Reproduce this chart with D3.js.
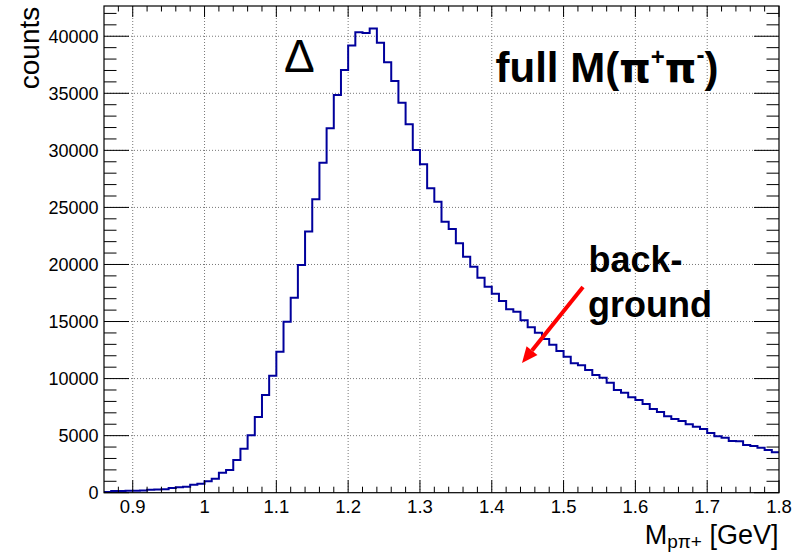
<!DOCTYPE html>
<html>
<head>
<meta charset="utf-8">
<script src="https://cdn.jsdelivr.net/npm/d3@7"></script>
<style>
  html, body { margin: 0; padding: 0; background: #fff; }
  svg { display: block; }
  text { font-family: "Liberation Sans", Arial, Helvetica, sans-serif; }
</style>
</head>
<body>
<svg id="chart" width="800" height="552"></svg>
<script>
// ---- data ----
const binLow = 0.86;
const binWidth = 0.01;
const counts = [
  60, 150, 150, 160, 180, 200, 260, 270, 300, 410,
  480, 520, 700, 790, 1000, 1230, 1750, 2000, 2870, 3860,
  5030, 6630, 8560, 10250, 12360, 14990, 17090, 19960, 22880, 25710,
  28920, 31930, 34850, 37040, 39180, 40350, 40290, 40670, 39440, 37720,
  36080, 34180, 32290, 30030, 28780, 26680, 25500, 23750, 23110, 21860,
  20680, 19810, 18840, 18050, 17440, 16800, 16070, 15860, 15110, 14500,
  14020, 13470, 12970, 12420, 11920, 11340, 11160, 10750, 10310, 10080,
  9640, 9000, 8760, 8360, 8120, 7770, 7340, 7070, 6700, 6460,
  6280, 5990, 5780, 5580, 5230, 4940, 4820, 4530, 4500, 4180,
  4090, 3950, 3740, 3540
];
const xDomain = [0.86, 1.8];
const yDomain = [0, 42650];
const xMajorTicks = [0.9, 1.0, 1.1, 1.2, 1.3, 1.4, 1.5, 1.6, 1.7, 1.8];
const xTickLabels = ["0.9", "1", "1.1", "1.2", "1.3", "1.4", "1.5", "1.6", "1.7", "1.8"];
const xMinorTicks = [0.88, 0.92, 0.94, 0.96, 0.98, 1.02, 1.04, 1.06, 1.08, 1.12, 1.14, 1.16, 1.18,
  1.22, 1.24, 1.26, 1.28, 1.32, 1.34, 1.36, 1.38, 1.42, 1.44, 1.46, 1.48, 1.52, 1.54, 1.56, 1.58,
  1.62, 1.64, 1.66, 1.68, 1.72, 1.74, 1.76, 1.78];
const yMajorTicks = [0, 5000, 10000, 15000, 20000, 25000, 30000, 35000, 40000];
const yMinorTicks = d3.range(1000, 43000, 1000).filter(v => v % 5000 !== 0);

// ---- layout ----
const L = 104, R = 779, T = 6, B = 492.7;
const svg = d3.select("#chart");
const x = d3.scaleLinear().domain(xDomain).range([L, R]);
const y = d3.scaleLinear().domain(yDomain).range([B, T]);

// grid
const grid = svg.append("g").attr("stroke", "#777").attr("stroke-width", 1).attr("stroke-dasharray", "1,2");
xMajorTicks.filter(v => v < 1.8).forEach(v => {
  grid.append("line").attr("x1", x(v)).attr("x2", x(v)).attr("y1", T).attr("y2", B);
});
yMajorTicks.filter(v => v > 0).forEach(v => {
  grid.append("line").attr("x1", L).attr("x2", R).attr("y1", y(v)).attr("y2", y(v));
});

// histogram
const pts = counts.map((c, i) => [binLow + i * binWidth, c]);
pts.push([binLow + counts.length * binWidth, counts[counts.length - 1]]);
const line = d3.line().x(d => x(d[0])).y(d => y(d[1])).curve(d3.curveStepAfter);
svg.append("path").attr("d", line(pts)).attr("fill", "none")
  .attr("stroke", "#00009c").attr("stroke-width", 2);

// ticks
const tk = svg.append("g").attr("stroke", "#000").attr("stroke-width", 1);
xMajorTicks.forEach(v => {
  tk.append("line").attr("x1", x(v)).attr("x2", x(v)).attr("y1", B).attr("y2", B - 12.5);
  tk.append("line").attr("x1", x(v)).attr("x2", x(v)).attr("y1", T).attr("y2", T + 11);
});
xMinorTicks.forEach(v => {
  tk.append("line").attr("x1", x(v)).attr("x2", x(v)).attr("y1", B).attr("y2", B - 6);
  tk.append("line").attr("x1", x(v)).attr("x2", x(v)).attr("y1", T).attr("y2", T + 5.5);
});
yMajorTicks.forEach(v => {
  tk.append("line").attr("x1", L).attr("x2", L + 25).attr("y1", y(v)).attr("y2", y(v));
  tk.append("line").attr("x1", R).attr("x2", R - 25).attr("y1", y(v)).attr("y2", y(v));
});
yMinorTicks.forEach(v => {
  tk.append("line").attr("x1", L).attr("x2", L + 12.5).attr("y1", y(v)).attr("y2", y(v));
  tk.append("line").attr("x1", R).attr("x2", R - 12.5).attr("y1", y(v)).attr("y2", y(v));
});

// frame
svg.append("rect").attr("x", L).attr("y", T).attr("width", R - L).attr("height", B - T)
  .attr("fill", "none").attr("stroke", "#000").attr("stroke-width", 1.2);

// tick labels
xMajorTicks.forEach((v, i) => {
  svg.append("text").attr("x", x(v)).attr("y", 513).attr("text-anchor", "middle")
    .attr("font-size", 18.5).attr("fill", "#000").text(xTickLabels[i]);
});
yMajorTicks.forEach(v => {
  svg.append("text").attr("x", 98.5).attr("y", y(v) + 6.3).attr("text-anchor", "end")
    .attr("font-size", 18).attr("fill", "#000").text(String(v));
});

// axis titles
const xt = svg.append("text").attr("x", 778.5).attr("y", 543.5).attr("text-anchor", "end")
  .attr("fill", "#000").attr("font-size", 27);
xt.append("tspan").text("M");
xt.append("tspan").attr("font-size", 19).attr("dy", 4.5).text("pπ+");
xt.append("tspan").attr("dy", -4.5).text(" [GeV]");

svg.append("text").attr("transform", "translate(38.5,6.7) rotate(-90)")
  .attr("text-anchor", "end").attr("font-size", 28).attr("fill", "#000").text("counts");

// annotations
svg.append("text").attr("x", 284).attr("y", 71.7).attr("font-size", 46).attr("fill", "#000").text("Δ");

const ft = svg.append("text").attr("x", 495.5).attr("y", 81.7).attr("font-size", 42)
  .attr("font-weight", "bold").attr("fill", "#000");
ft.append("tspan").text("full M(");
ft.append("tspan").attr("font-family", "DejaVu Sans").attr("font-size", 40).text("π");
ft.append("tspan").attr("font-size", 24).attr("dy", -17).text("+");
ft.append("tspan").attr("font-family", "DejaVu Sans").attr("font-size", 40).attr("dy", 17).text("π");
ft.append("tspan").attr("font-size", 24).attr("dy", -19).text("-");
ft.append("tspan").attr("dy", 19).text(")");

svg.append("text").attr("x", 588.5).attr("y", 271.7).attr("font-size", 36)
  .attr("font-weight", "bold").attr("fill", "#000").text("back-");
svg.append("text").attr("x", 588).attr("y", 316.7).attr("font-size", 36)
  .attr("font-weight", "bold").attr("fill", "#000").text("ground");

// arrow
const ax0 = 583, ay0 = 287, ax1 = 522, ay1 = 363;
const ang = Math.atan2(ay1 - ay0, ax1 - ax0);
const hl = 16, hw = 7;
const bx = ax1 - hl * Math.cos(ang), by = ay1 - hl * Math.sin(ang);
svg.append("line").attr("x1", ax0).attr("y1", ay0).attr("x2", bx).attr("y2", by)
  .attr("stroke", "#ff0000").attr("stroke-width", 4);
svg.append("path")
  .attr("d", `M${ax1},${ay1} L${bx + hw * Math.sin(ang)},${by - hw * Math.cos(ang)} L${bx - hw * Math.sin(ang)},${by + hw * Math.cos(ang)} Z`)
  .attr("fill", "#ff0000");
</script>
</body>
</html>
